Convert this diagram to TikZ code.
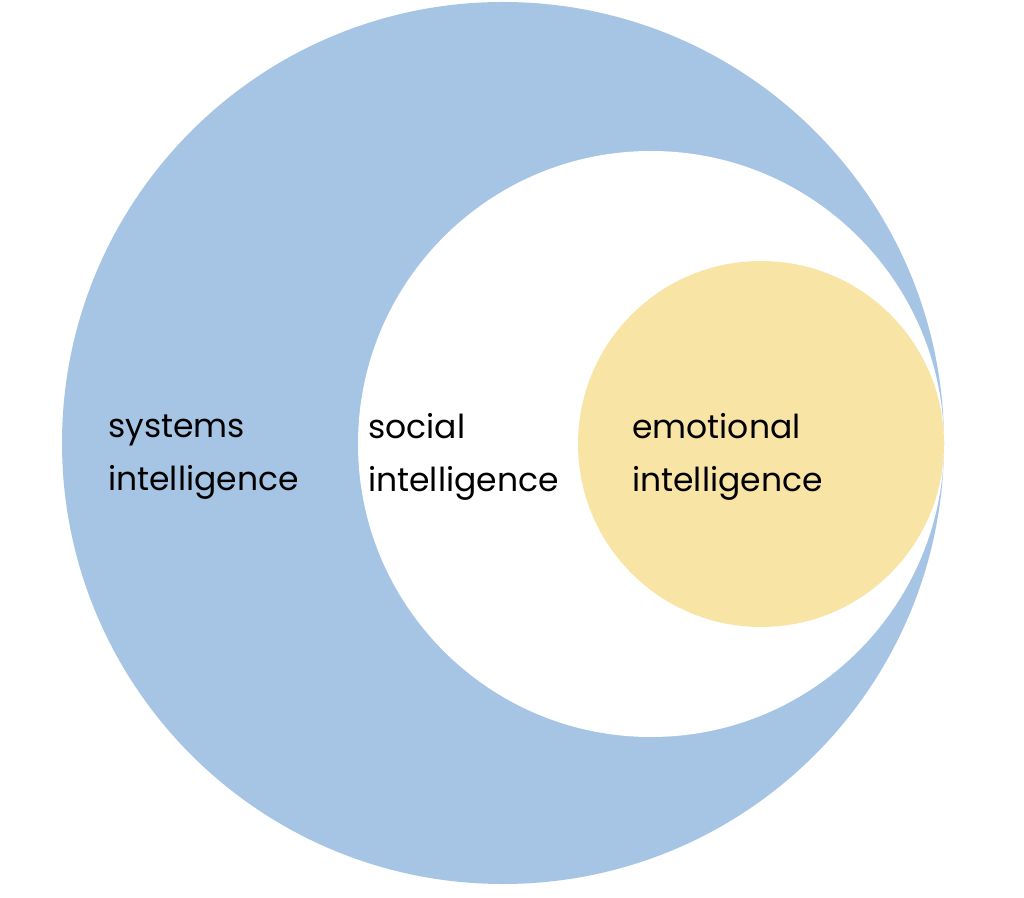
\documentclass[tikz,border=0pt]{standalone}
\usepackage{fontspec}
\setmainfont{Poppins}
\definecolor{cblue}{HTML}{A6C5E5}
\definecolor{cyel}{HTML}{F8E5A6}
\begin{document}
\begin{tikzpicture}[x=1pt,y=1pt,
  lbl/.style={align=left,anchor=west,font=\fontsize{33}{53}\selectfont,inner sep=0pt}]
\useasboundingbox (0,0) rectangle (1024,897);
\fill[white] (0,0) rectangle (1024,897);
\fill[cblue] (503,454) circle (441);
\fill[white] (651,453) circle (293);
\fill[cyel] (761,453) circle (183);
\node[lbl] (sys) at (108,440) {systems\\intelligence};
\node[lbl] (soc) at (368,440) {social\\intelligence};
\node[lbl] (emo) at (632,440) {emotional\\intelligence};
\end{tikzpicture}
\end{document}
